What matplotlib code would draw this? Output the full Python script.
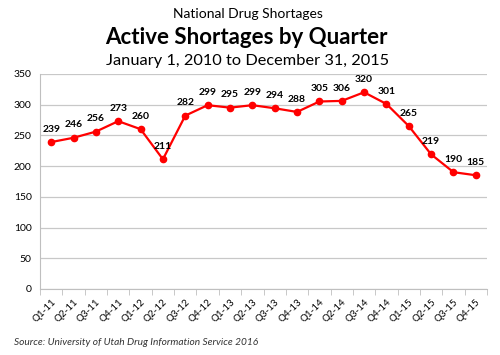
import matplotlib.pyplot as plt

quarters = ['Q1-11', 'Q2-11', 'Q3-11', 'Q4-11', 'Q1-12', 'Q2-12', 'Q3-12', 'Q4-12',
            'Q1-13', 'Q2-13', 'Q3-13', 'Q4-13', 'Q1-14', 'Q2-14', 'Q3-14', 'Q4-14',
            'Q1-15', 'Q2-15', 'Q3-15', 'Q4-15']
shortages = [239, 246, 256, 273, 260, 211, 282, 299, 295, 299, 294, 288,
             305, 306, 320, 301, 265, 219, 190, 185]

plt.rcParams['font.family'] = ['Lato', 'DejaVu Sans']

fig = plt.figure(figsize=(5, 3.55), dpi=100)
ax = fig.add_axes([0.08, 0.186, 0.894, 0.606])

x = list(range(len(quarters)))
ax.plot(x, shortages, color='#ff0000', linewidth=1.6, marker='o', markersize=4.5, zorder=3)

for i, v in zip(x, shortages):
    ax.annotate(str(v), (i, v), xytext=(0, 6), textcoords='offset points',
                ha='center', va='bottom', fontsize=7.5, fontweight='bold', color='black')

ax.set_xlim(-0.5, len(quarters) - 0.5)
ax.set_ylim(0, 350)
ax.set_yticks(range(0, 351, 50))
ax.grid(axis='y', color='#c8c8c8', linewidth=0.9)
ax.set_axisbelow(True)

# category labels centred, tick marks on the boundaries like Excel
ax.set_xticks(x)
ax.set_xticklabels(quarters, rotation=45, ha='right', rotation_mode='anchor', fontsize=7)
ax.tick_params(axis='x', length=0, pad=6)
ax.set_xticks([i - 0.5 for i in range(len(quarters) + 1)], minor=True)
ax.tick_params(axis='x', which='minor', length=4, color='#bfbfbf')
ax.tick_params(axis='y', length=0, labelsize=7.5, pad=6)

for side in ['top', 'right']:
    ax.spines[side].set_visible(False)
ax.spines['left'].set_color('#bfbfbf')
ax.spines['bottom'].set_color('#bfbfbf')

fig.text(0.495, 0.96, 'National Drug Shortages', ha='center', va='center', fontsize=10)
fig.text(0.493, 0.895, 'Active Shortages by Quarter', ha='center', va='center',
         fontsize=16, fontweight='bold')
fig.text(0.495, 0.827, 'January 1, 2010 to December 31, 2015', ha='center', va='center',
         fontsize=11.8)
fig.text(0.028, 0.035, 'Source: University of Utah Drug Information Service 2016',
         ha='left', va='center', fontsize=7.3, style='italic', color='#333333')

fig.savefig('out.png', dpi=100)
